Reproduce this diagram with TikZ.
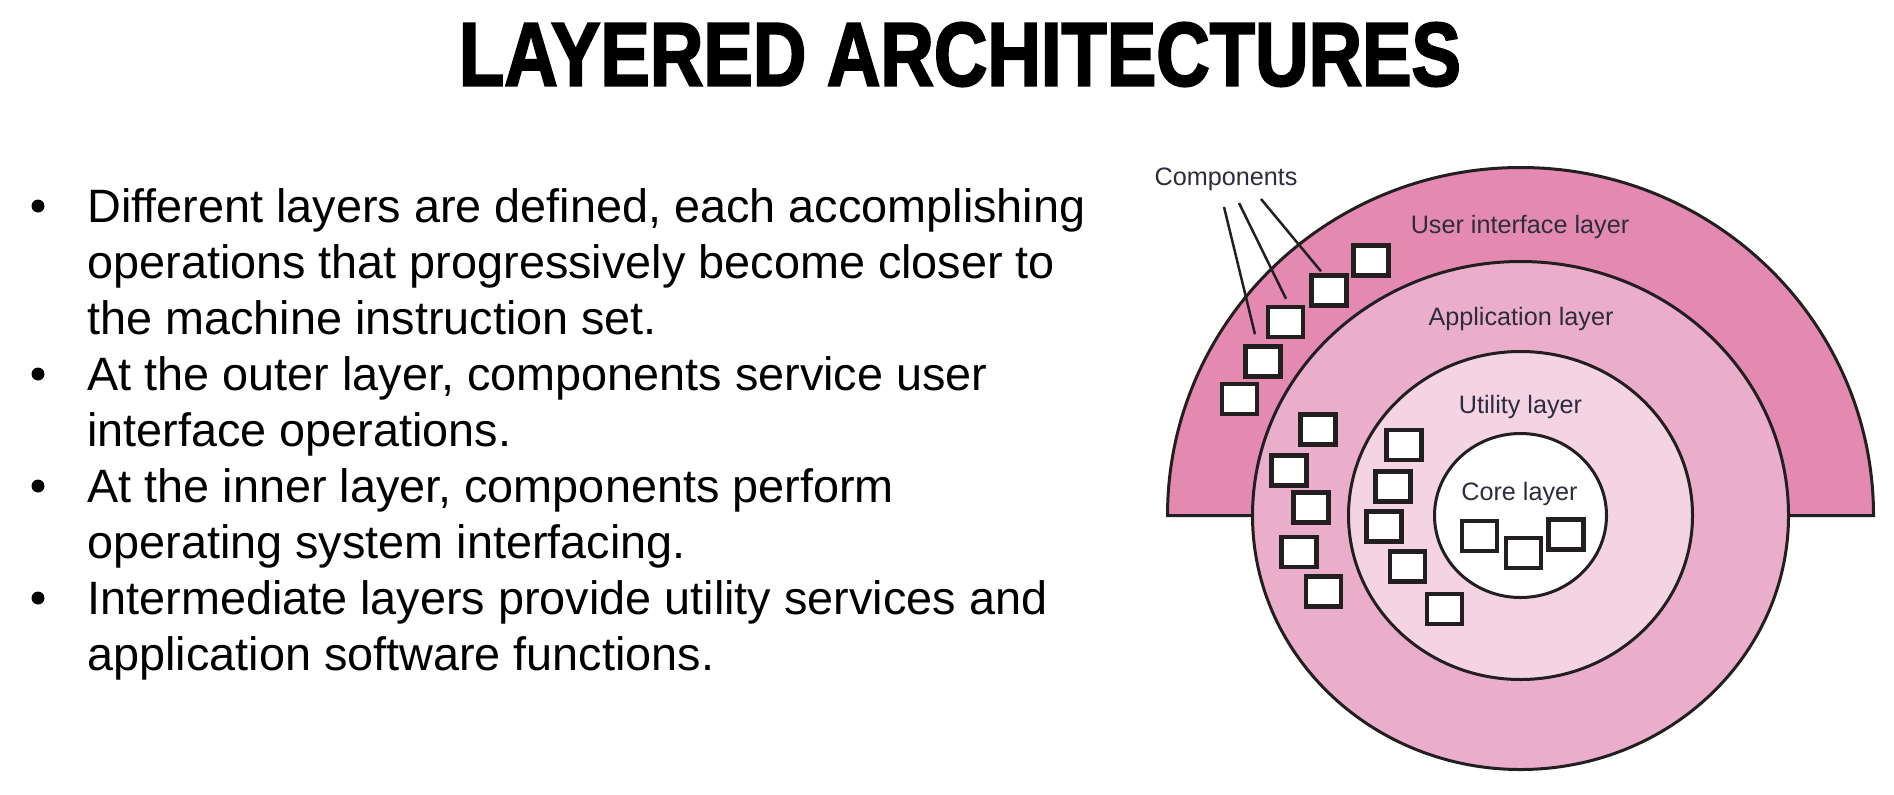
\documentclass[tikz,border=0pt]{standalone}
\usepackage{fontspec}
\setmainfont{Liberation Sans}
\newfontfamily\titlefont{Liberation Sans}[BoldFeatures={FakeBold=2.5}]
\usetikzlibrary{calc}
\definecolor{uipink}{HTML}{E48AB0}
\definecolor{apppink}{HTML}{EAAECB}
\definecolor{utilpink}{HTML}{F4D3E3}
\definecolor{inkline}{HTML}{231F20}
\definecolor{labelink}{HTML}{2D2B3D}
\begin{document}
\begin{tikzpicture}[x=0.5pt, y=-0.5pt,
  layerline/.style={draw=inkline, line width=1.5pt},
  comp/.style={draw=inkline, fill=white, line width=2.2pt, rectangle, inner sep=0pt, minimum width=17.5pt, minimum height=15pt},
  lbl/.style={font=\fontsize{12.6pt}{14pt}\selectfont, text=labelink, inner sep=0pt, anchor=base},
  body/.style={font=\fontsize{23.4pt}{28pt}\selectfont, inner sep=0pt, anchor=base west},
  bul/.style={circle, fill=black, inner sep=0pt, minimum size=6.5pt},
  pointer/.style={draw=inkline, line width=1.25pt},
]
\fill[white] (0,0) rectangle (1894,794);
\useasboundingbox (0,0) rectangle (1894,794);

% title
\node[inner sep=0pt] (title) at (960,54.5) {\resizebox{501pt}{31.5pt}{\titlefont\bfseries LAYERED ARCHITECTURES}};

% bullets and text
\node[bul] (b1) at (38,206) {};
\node[bul] (b2) at (38,374) {};
\node[bul] (b3) at (38,486) {};
\node[bul] (b4) at (38,598) {};
\node[body] (t1) at (87,222) {Different layers are defined, each accomplishing};
\node[body] (t2) at (87,278) {operations that progressively become closer to};
\node[body] (t3) at (87,334) {the machine instruction set.};
\node[body] (t4) at (87,390) {At the outer layer, components service user};
\node[body] (t5) at (87,446) {interface operations.};
\node[body] (t6) at (87,502) {At the inner layer, components perform};
\node[body] (t7) at (87,558) {operating system interfacing.};
\node[body] (t8) at (87,614) {Intermediate layers provide utility services and};
\node[body] (t9) at (87,670) {application software functions.};

% layers
\coordinate (ctr) at (1520.5,515.5);
\draw[layerline, fill=uipink, line join=miter] (1167.5,515.5) arc[start angle=180, end angle=360, x radius=353, y radius=348] -- cycle;
\draw[layerline, fill=apppink] (ctr) ellipse [x radius=268, y radius=254];
\draw[layerline, fill=utilpink] (ctr) ellipse [x radius=172, y radius=164];
\draw[layerline, fill=white] (ctr) ellipse [x radius=86, y radius=82];

% components: user interface layer
\node[comp] (S1) at (1371,260.5) {};
\node[comp] (S2) at (1329,290.5) {};
\node[comp] (S3) at (1285.5,322) {};
\node[comp] (S4) at (1263,361.5) {};
\node[comp] (S5) at (1239.5,399) {};
% application layer
\node[comp] (A1) at (1318,429.5) {};
\node[comp] (A2) at (1289,470.5) {};
\node[comp] (A3) at (1311,507.5) {};
\node[comp] (A4) at (1299,552) {};
\node[comp] (A5) at (1323.5,591.5) {};
% utility layer
\node[comp] (U1) at (1404,445) {};
\node[comp] (U2) at (1393,486.5) {};
\node[comp] (U3) at (1384,526.5) {};
\node[comp] (U4) at (1407.5,566.5) {};
\node[comp] (U5) at (1444.5,609) {};
% core layer
\node[comp] (C1) at (1479.5,536) {};
\node[comp] (C2) at (1523.5,553) {};
\node[comp] (C3) at (1566,534.5) {};

% labels
\node[lbl] (lcomp) at (1226,185) {Components};
\node[lbl] (lui) at (1520,233) {User interface layer};
\node[lbl] (lapp) at (1521,325) {Application layer};
\node[lbl] (lutil) at (1520.5,413) {Utility layer};
\node[lbl] (lcore) at (1519.5,500) {Core layer};

% pointers
\coordinate (p1) at (1224,207);
\coordinate (p2) at (1239,203);
\coordinate (p3) at (1261,199);
\draw[pointer] (p1) -- ([shift={(-8,-10)}]S4.north);
\draw[pointer] (p2) -- ([shift={(0.5,-6)}]S3.north);
\draw[pointer] (p3) -- ([shift={(-8,-2)}]S2.north);
\end{tikzpicture}
\end{document}
